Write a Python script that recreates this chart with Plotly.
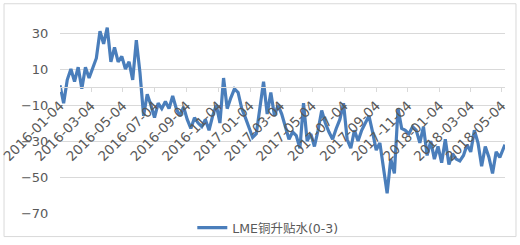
import pandas as pd
import plotly.graph_objects as go

start_date = "2016-01-04"
n_weeks = 123
extra_date = "2018-05-10"

values = [
    1, -9, 4, 10, 3, 11, -1, 11, 5, 11,
    16, 31, 24, 33, 14, 22, 14, 17, 10, 14,
    4, 26, 8, -16, -4, -10, -17, -9, -12, -8,
    -12, -5, -12, -16, -11, -18, -23, -17, -20, -22,
    -18, -24, -16, -10, -20, 5, -12, -6, -1, -3,
    -12, -17, -22, -28, -26, -10, 3, -15, -3, -16,
    -10, -15, -22, -29, -25, -27, -34, -9, -30, -26,
    -33, -24, -13, -20, -25, -29, -23, -18, -9, -29,
    -34, -24, -30, -24, -20, -16, -25, -35, -31, -45,
    -59, -40, -48, -12, -23, -24, -26, -22, -24, -31,
    -22, -38, -30, -40, -33, -42, -29, -43, -37, -40,
    -41, -38, -32, -36, -24, -31, -44, -33, -39, -48,
    -36, -39, -34, -32,
]

dates = list(pd.date_range(start_date, periods=n_weeks, freq="7D").strftime("%Y-%m-%d")) + [extra_date]

series_name = "LME铜升贴水(0-3)"
y_ticks = [-70, -50, -30, -10, 10, 30]

fig = go.Figure()
fig.add_trace(go.Scatter(
    x=dates, y=values, mode="lines", name=series_name,
    line=dict(color="#4a7ebb", width=3.2),
))

grey = "#595959"
fig.update_layout(
    width=520, height=245, autosize=False,
    margin=dict(l=60, r=15, t=15, b=28),
    paper_bgcolor="white", plot_bgcolor="white",
    font=dict(family="DejaVu Sans", size=12, color=grey),
    showlegend=True,
    legend=dict(orientation="h", xref="container", x=0.515, xanchor="center",
                yref="container", y=0.069, yanchor="middle",
                font=dict(family="DejaVu Sans, Noto Sans CJK SC", size=12.5, color=grey),
                bgcolor="rgba(0,0,0,0)"),
    xaxis=dict(
        type="date", range=[start_date, extra_date],
        tick0=start_date, dtick="M2", tickformat="%Y-%m-%d",
        tickangle=-45, showgrid=False, automargin=False,
        anchor="free", position=0.6346,
        showline=True, linecolor="#d9d9d9", linewidth=1,
        ticks="outside", ticklen=4, tickcolor="#d9d9d9",
        tickfont=dict(size=13.5, color=grey),
    ),
    yaxis=dict(
        range=[-70, 40], tickvals=y_ticks, automargin=False,
        showgrid=True, gridcolor="#d9d9d9", gridwidth=1,
        zeroline=False, showline=False,
        ticks="outside", ticklen=8, tickcolor="rgba(0,0,0,0)",
        tickfont=dict(size=13, color=grey),
    ),
    shapes=[dict(type="rect", xref="paper", yref="paper",
                 x0=-0.1258, x1=1.0247, y0=-0.1185, y1=1.0568,
                 line=dict(color="#d9d9d9", width=1), layer="below")],
)

fig.write_html(
    "out.html",
    config={"displayModeBar": False, "responsive": False},
    default_width="520px", default_height="245px",
    post_script=(
        "document.body.style.margin='0';document.body.style.overflow='hidden';"
        "Plotly.relayout(document.getElementById('{plot_id}'), {width:520, height:245});"
    ),
)
